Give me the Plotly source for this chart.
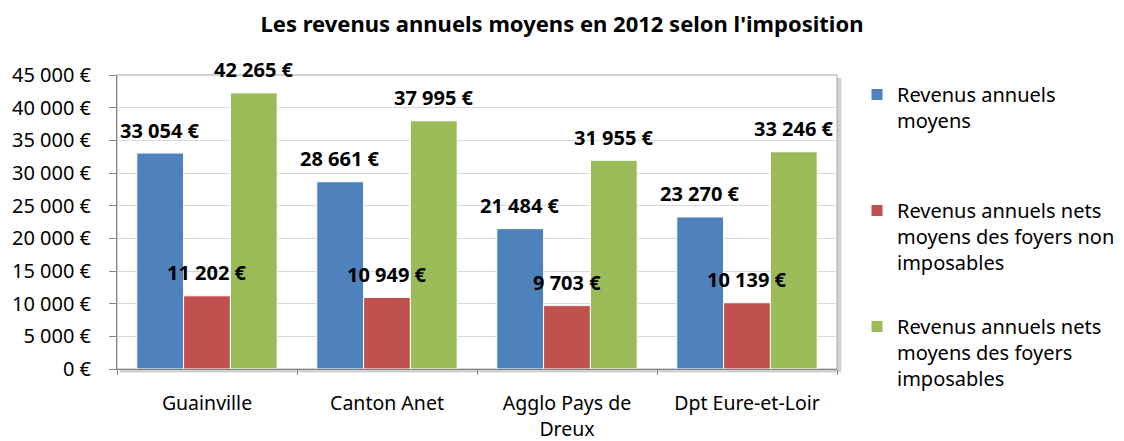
import plotly.graph_objects as go

categories = ["Guainville", "Canton Anet", "Agglo Pays de<br>Dreux", "Dpt Eure-et-Loir"]
series_names = [
    "Revenus annuels<br>moyens<br> ",
    "Revenus annuels nets<br>moyens des foyers non<br>imposables",
    "Revenus annuels nets<br>moyens des foyers<br>imposables",
]
revenus_moyens = [33054, 28661, 21484, 23270]
revenus_non_imposables = [11202, 10949, 9703, 10139]
revenus_imposables = [42265, 37995, 31955, 33246]
colors = ["#4F81BD", "#C0504D", "#9BBB59"]

series = [revenus_moyens, revenus_non_imposables, revenus_imposables]

FONT = "Noto Sans"

def fmt(v):
    return f"{v:,}".replace(",", " ") + " €"

fig = go.Figure()
for i, (name, vals) in enumerate(zip(series_names, series)):
    fig.add_trace(go.Bar(
        x=categories, y=vals, name=name,
        marker=dict(color=colors[i], line=dict(color="white", width=1)),
        legendgroup=f"g{i}",
    ))

# plot geometry for label offsets
L, R, T, B = 117, 287, 75, 72
W, H = 1124, 441
plot_w = W - L - R
plot_h = H - T - B
bargap = 0.22
bar_px = plot_w / len(categories) * (1 - bargap) / 3

annotations = []
for i, vals in enumerate(series):
    for c, v in zip(categories, vals):
        annotations.append(dict(
            x=c, y=v, xref="x", yref="y", text=fmt(v), showarrow=False,
            xshift=(i - 1) * bar_px, yshift=23, yanchor="middle",
            font=dict(family=FONT, size=20, color="black", weight="bold"),
        ))

shapes = [
    # shadow
    dict(type="rect", xref="paper", yref="paper", x0=0.004, y0=-0.012, x1=1.006, y1=0.99,
         line=dict(width=0), fillcolor="rgba(0,0,0,0.18)", layer="below"),
    dict(type="rect", xref="paper", yref="paper", x0=0, y0=0, x1=1, y1=1,
         line=dict(width=0), fillcolor="white", layer="below"),
    dict(type="rect", xref="paper", yref="paper", x0=0, y0=0, x1=1, y1=1,
         line=dict(color="#A6A6A6", width=1), fillcolor="rgba(0,0,0,0)", layer="below"),
]

fig.update_layout(
    width=W, height=H,
    margin=dict(l=L, r=R, t=T, b=B, autoexpand=False),
    paper_bgcolor="white", plot_bgcolor="rgba(0,0,0,0)",
    separators=", ",
    title=dict(text="Les revenus annuels moyens en 2012 selon l'imposition",
               x=0.5, xanchor="center", xref="container", y=1 - 24 / H, yanchor="middle",
               yref="container",
               font=dict(family=FONT, size=22, color="black", weight="bold")),
    barmode="group", bargap=bargap, bargroupgap=0,
    font=dict(family=FONT, size=20, color="black"),
    showlegend=True,
    legend=dict(x=(857 - L) / plot_w, xanchor="left", y=1.0, yanchor="top",
                valign="top", maxheight=420,
                font=dict(family=FONT, size=20, color="black"),
                tracegroupgap=35, itemwidth=30, bgcolor="rgba(0,0,0,0)"),
    xaxis=dict(showgrid=False, showline=True, linecolor="#868686", automargin=False,
               ticks="outside", tickson="boundaries", ticklen=5, tickcolor="#868686",
               ticklabelstandoff=17,
               tickfont=dict(family=FONT, size=19.5, color="black")),
    yaxis=dict(range=[0, 45000], dtick=5000, tickformat=",", ticksuffix=" €",
               automargin=False,
               showgrid=True, gridcolor="#D9D9D9", gridwidth=1,
               showline=True, linecolor="#868686", ticks="outside", ticklen=7,
               tickcolor="#868686", zeroline=False, ticklabelstandoff=14,
               tickfont=dict(family=FONT, size=20, color="black")),
    annotations=annotations,
    shapes=shapes,
)

fig.write_html("out.html", config={"displayModeBar": False},
               post_script="document.body.style.margin='0';document.body.style.overflow='hidden';")
